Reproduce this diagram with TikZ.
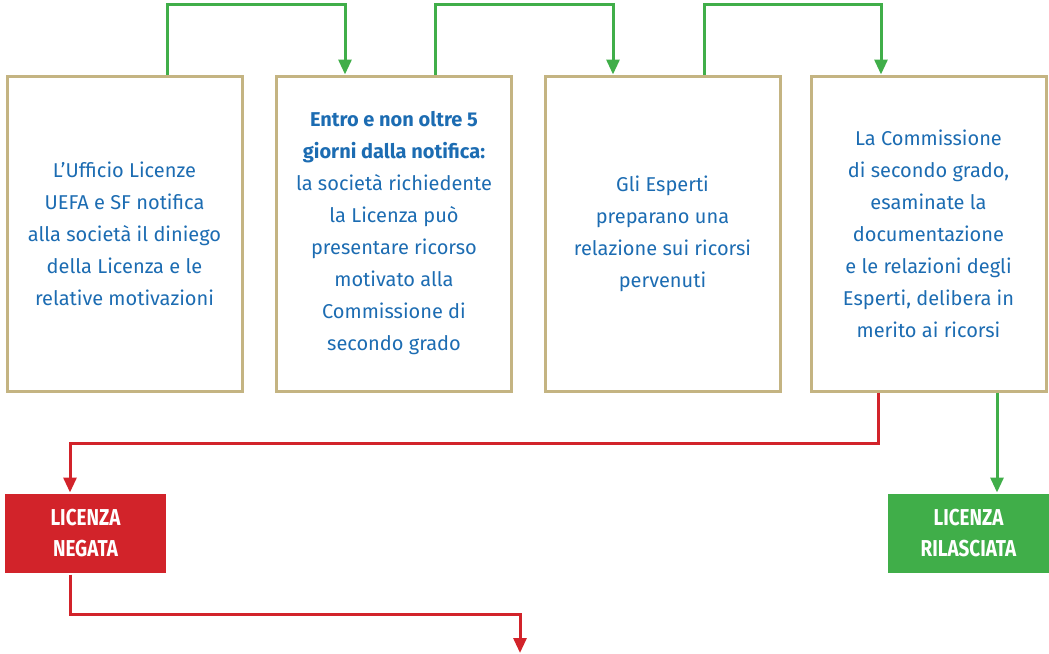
\documentclass[tikz,border=0pt]{standalone}
\usepackage{fontspec}
\setmainfont{Fira Sans}
\newfontfamily\labelfont{Fira Sans}[FakeStretch=0.82]
\usetikzlibrary{arrows.meta}

\definecolor{boxborder}{RGB}{196,180,130}
\definecolor{textblue}{RGB}{28,108,178}
\definecolor{okgreen}{RGB}{64,174,73}
\definecolor{nored}{RGB}{210,35,42}

\begin{document}
\begin{tikzpicture}[x=1pt,y=-1pt,>={Triangle[width=13pt,length=15pt]},line width=3pt,
                    step node/.style={draw=boxborder,line width=3pt,minimum width=235pt,minimum height=315pt,
                      inner sep=0pt,align=center,text=textblue,font=\fontsize{20}{32}\selectfont},
                    result node/.style={minimum width=161pt,minimum height=79pt,inner sep=0pt,align=center,
                      text=white,font=\labelfont\bfseries\fontsize{23}{31}\selectfont}]

  \useasboundingbox (0,0) rectangle (1049,653);

  \node[step node] (1) at (124.5,233.5) {L'Ufficio Licenze\\UEFA e SF notifica\\alla società il diniego\\della Licenza e le\\relative motivazioni};
  \node[step node] (2) at (394,233.5) {\textbf{Entro e non oltre 5}\\\textbf{giorni dalla notifica:}\\la società richiedente\\la Licenza può\\presentare ricorso\\motivato alla\\Commissione di\\secondo grado};
  \node[step node] (3) at (662.5,233.5) {Gli Esperti\\preparano una\\relazione sui ricorsi\\pervenuti};
  \node[step node] (4) at (928.5,233.5) {La Commissione\\di secondo grado,\\esaminate la\\documentazione\\e le relazioni degli\\Esperti, delibera in\\merito ai ricorsi};

  \node[result node,fill=nored] (no) at (85.5,533.5) {LICENZA\\NEGATA};
  \node[result node,fill=okgreen] (ok) at (968.5,533.5) {LICENZA\\RILASCIATA};

  \coordinate (out) at (520,653);

  % steps
  \path[->,draw=okgreen]
    ([xshift=42.5pt]1.north) -- ++(0,-70) -| ([xshift=-49pt]2.north);
  \path[->,draw=okgreen]
    ([xshift=41pt]2.north) -- ++(0,-70) -| ([xshift=-49.5pt]3.north);
  \path[->,draw=okgreen]
    ([xshift=41.5pt]3.north) -- ++(0,-70) -| ([xshift=-47.5pt]4.north);

  % outcomes
  \draw[->,nored] ([xshift=-50.5pt]4.south) -- ++(0,51) -| ([xshift=-15.5pt]no.north);
  \draw[->,okgreen] ([xshift=68.5pt]4.south) -- ([xshift=28.5pt]ok.north);
  \draw[->,nored] ([xshift=-15.5pt]no.south) -- ++(0,40) -| (out);
\end{tikzpicture}
\end{document}
